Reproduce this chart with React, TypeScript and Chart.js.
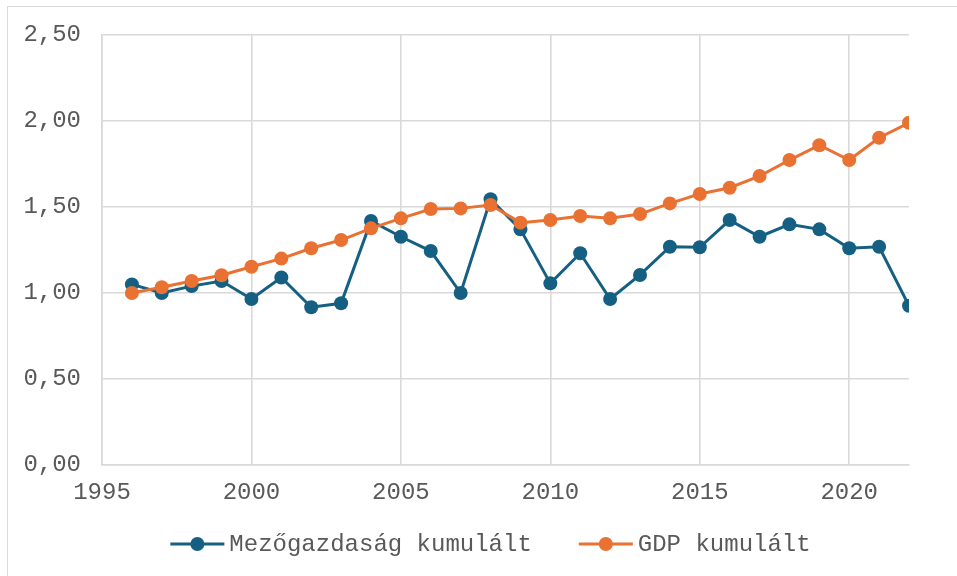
import React, { useEffect, useRef } from "react";
import { Chart, registerables } from "chart.js";

Chart.register(...registerables);

const years = [1996, 1997, 1998, 1999, 2000, 2001, 2002, 2003, 2004, 2005, 2006, 2007, 2008, 2009, 2010, 2011, 2012, 2013, 2014, 2015, 2016, 2017, 2018, 2019, 2020, 2021, 2022];
const agriValues = [1.05, 1.0, 1.04, 1.07, 0.965, 1.09, 0.917, 0.94, 1.419, 1.327, 1.244, 1.0, 1.545, 1.37, 1.056, 1.231, 0.965, 1.105, 1.269, 1.266, 1.424, 1.327, 1.399, 1.37, 1.26, 1.269, 0.926];
const gdpValues = [1.0, 1.033, 1.07, 1.103, 1.153, 1.2, 1.26, 1.308, 1.376, 1.434, 1.488, 1.492, 1.512, 1.409, 1.424, 1.448, 1.434, 1.459, 1.521, 1.576, 1.612, 1.68, 1.773, 1.859, 1.773, 1.903, 1.99];
const seriesLabels = ["Mezőgazdaság kumulált", "GDP kumulált"];
const seriesColors = ["#156082", "#E97132"];

const FONT = '"Liberation Mono", "DejaVu Sans Mono", monospace';
const TEXT_COLOR = "#595959";
const GRID_COLOR = "#d9d9d9";

const lineLegend = {
  id: "lineLegend",
  afterDraw(chart: any) {
    const ctx = chart.ctx as CanvasRenderingContext2D;
    ctx.save();
    ctx.font = `24px ${FONT}`;
    const symW = 54;
    const gap1 = 5;
    const gap2 = 47;
    const items = chart.data.datasets.map((ds: any) => ({
      label: ds.label as string,
      color: ds.borderColor as string,
      w: ctx.measureText(ds.label).width,
    }));
    const total =
      items.reduce((s: number, it: any) => s + symW + gap1 + it.w, 0) +
      gap2 * (items.length - 1);
    let x = chart.width / 2 - total / 2;
    const y = chart.chartArea.bottom + 79;
    items.forEach((it: any) => {
      ctx.strokeStyle = it.color;
      ctx.lineWidth = 3;
      ctx.beginPath();
      ctx.moveTo(x, y);
      ctx.lineTo(x + symW, y);
      ctx.stroke();
      ctx.fillStyle = it.color;
      ctx.beginPath();
      ctx.arc(x + symW / 2, y, 7, 0, Math.PI * 2);
      ctx.fill();
      ctx.fillStyle = TEXT_COLOR;
      ctx.textBaseline = "middle";
      ctx.textAlign = "left";
      ctx.fillText(it.label, x + symW + gap1, y + 1);
      x += symW + gap1 + it.w + gap2;
    });
    ctx.restore();
  },
};

export default function App() {
  const ref = useRef<HTMLCanvasElement | null>(null);

  useEffect(() => {
    if (!ref.current) return;
    const mk = (vals: number[]) => years.map((y, i) => ({ x: y, y: vals[i] }));
    const chart = new Chart(ref.current, {
      type: "line",
      data: {
        datasets: [
          {
            label: seriesLabels[0],
            data: mk(agriValues),
            borderColor: seriesColors[0],
            backgroundColor: seriesColors[0],
            borderWidth: 3,
            pointRadius: 7,
            pointHoverRadius: 7,
            pointBorderWidth: 0,
            tension: 0,
            order: 2,
          },
          {
            label: seriesLabels[1],
            data: mk(gdpValues),
            borderColor: seriesColors[1],
            backgroundColor: seriesColors[1],
            borderWidth: 3,
            pointRadius: 7,
            pointHoverRadius: 7,
            pointBorderWidth: 0,
            tension: 0,
            order: 1,
          },
        ],
      },
      options: {
        animation: false,
        responsive: false,
        devicePixelRatio: 1,
        layout: { padding: { left: 0, right: 64, top: 28, bottom: 0 } },
        plugins: {
          legend: { display: false },
          tooltip: { enabled: false },
        },
        scales: {
          x: {
            type: "linear",
            min: 1995,
            max: 2022,
            afterFit: (scale: any) => {
              scale.height = 119;
            },
            ticks: {
              stepSize: 5,
              includeBounds: false,
              padding: 13,
              color: TEXT_COLOR,
              font: { family: FONT, size: 24 },
              callback: (v: any) => String(v),
              maxRotation: 0,
            },
            grid: { color: GRID_COLOR, lineWidth: 1.6, drawTicks: false },
            border: { color: GRID_COLOR, width: 1.6 },
          },
          y: {
            min: 0,
            max: 2.5,
            afterFit: (scale: any) => {
              scale.width = 94;
              scale.paddingTop = 0;
              scale.paddingBottom = 0;
            },
            ticks: {
              stepSize: 0.5,
              padding: 21,
              color: TEXT_COLOR,
              font: { family: FONT, size: 24 },
              callback: (v: any) => Number(v).toFixed(2).replace(".", ","),
            },
            grid: { color: GRID_COLOR, lineWidth: 1.6, drawTicks: false },
            border: { color: GRID_COLOR, width: 1.6 },
          },
        },
      },
      plugins: [lineLegend],
    });
    return () => chart.destroy();
  }, []);

  return (
    <div
      style={{
        position: "fixed",
        left: 7,
        top: 6,
        width: 965,
        height: 577,
        border: `1px solid ${GRID_COLOR}`,
        background: "#fff",
      }}
    >
      <canvas ref={ref} width={965} height={577} style={{ display: "block" }} />
    </div>
  );
}
